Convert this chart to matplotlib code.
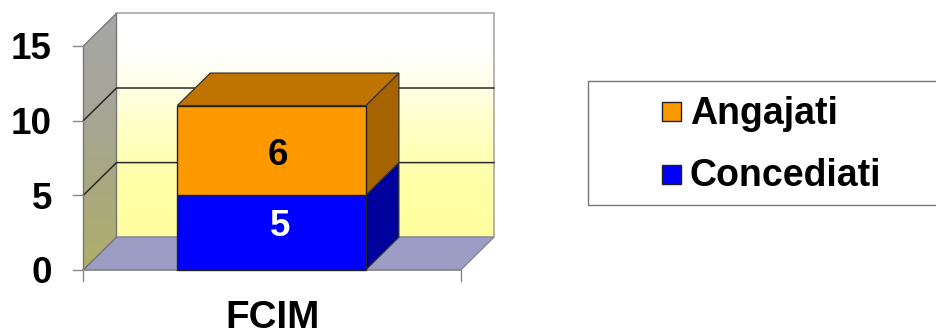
#!/usr/bin/env python3
"""Stacked 3D-look column, drawn by hand on a flat axes."""
import numpy as np
import matplotlib
matplotlib.use("Agg")
import matplotlib.pyplot as plt
from matplotlib.colors import LinearSegmentedColormap
from matplotlib.patches import Polygon, Rectangle

categories = ["FCIM"]
concediati = [5]
angajati = [6]
series_names = ["Angajati", "Concediati"]
y_ticks = [0, 5, 10, 15]

W, H = 937, 329
X0_PX, X1_PX = 83.5, 461.0    # front floor edge
Y0_PX = 269.7
PX_PER_UNIT = 14.92
SPAN = X1_PX - X0_PX
DX = 33.0 / SPAN              # depth offset in x units
DY = 32.5 / PX_PER_UNIT       # depth offset in y units
BAR_L, BAR_R = 0.2485, 0.748
YMAX = y_ticks[-1]

plt.rcParams["font.family"] = ["Liberation Sans", "DejaVu Sans"]
plt.rcParams["font.weight"] = "bold"

fig = plt.figure(figsize=(W / 100, H / 100), dpi=100)
ax = fig.add_axes([0, 0, 1, 1])
xlim = (-X0_PX / SPAN, (W - X0_PX) / SPAN)
ylim = ((Y0_PX - H) / PX_PER_UNIT, Y0_PX / PX_PER_UNIT)


def px(x, y):
    """figure pixels (y from top) to axes fraction"""
    return x / W, 1 - y / H


def poly(pts, color, z, ec="#333333", lw=0.9):
    p = Polygon(pts, closed=True, facecolor=color, edgecolor=ec, linewidth=lw, zorder=z)
    ax.add_patch(p)
    return p


# back wall gradient
wall_cm = LinearSegmentedColormap.from_list(
    "wall", [(0, "#FFFFA0"), (0.25, "#FFFFA8"), (0.5, "#FFFFC8"), (0.7, "#FFFFEC"), (0.84, "#FFFFFF"), (1, "#FFFFFF")])
grad = np.linspace(0, 1, 256).reshape(-1, 1)
ax.imshow(grad, cmap=wall_cm, origin="lower", aspect="auto", zorder=1,
          extent=(DX, 1 + DX, DY, YMAX + DY))
ax.add_patch(Rectangle((DX, DY), 1, YMAX, fill=False, ec="#A8A8A8", lw=1.2, zorder=1.5))

# left side wall gradient, clipped to its parallelogram
side_cm = LinearSegmentedColormap.from_list("side", ["#AFAF6A", "#A8A880", "#A6A69A", "#A6A6A6"])
left = Polygon([(0, 0), (DX, DY), (DX, YMAX + DY), (0, YMAX)], closed=True,
               facecolor="none", edgecolor="#777777", linewidth=1.0, zorder=2.5)
ax.add_patch(left)
im = ax.imshow(grad, cmap=side_cm, origin="lower", aspect="auto", zorder=2,
               extent=(0, DX, 0, YMAX + DY))
im.set_clip_path(left)

# floor
poly([(0, 0), (1, 0), (1 + DX, DY), (DX, DY)], "#9C9CC4", 2, ec="#8A8A8A", lw=1.0)

# gridlines on both walls
for v in y_ticks[1:-1]:
    ax.plot([0, DX, 1 + DX], [v, v + DY, v + DY], color="#2A2A2A", lw=1.1, zorder=3)

# axis lines and ticks
ax.plot([0, 1], [0, 0], color="#888888", lw=1.2, zorder=3)
for v in y_ticks:
    ax.plot([-10 / SPAN, 0], [v, v], color="#888888", lw=1.0, zorder=3)
    ax.text(*px(52, Y0_PX - v * PX_PER_UNIT), str(v), transform=ax.transAxes,
            ha="right", va="center_baseline", fontsize=26.5, color="black", zorder=6)
for x in (0, 1):
    ax.plot([x, x], [0, -11 / PX_PER_UNIT], color="#888888", lw=1.0, zorder=3)

# stacked column
bottoms = [0, concediati[0]]
heights = [concediati[0], angajati[0]]
front = ["#0000FF", "#FF9900"]
sides = ["#00009C", "#A66300"]
for b, h, fc, sc in zip(bottoms, heights, front, sides):
    t = b + h
    ax.bar(BAR_L, h, width=BAR_R - BAR_L, bottom=b, align="edge", color=fc,
           edgecolor="#222222", linewidth=1.0, zorder=5)
    poly([(BAR_R, b), (BAR_R + DX, b + DY), (BAR_R + DX, t + DY), (BAR_R, t)], sc, 4.5)
top = bottoms[-1] + heights[-1]
poly([(BAR_L, top), (BAR_R, top), (BAR_R + DX, top + DY), (BAR_L + DX, top + DY)], "#BF7300", 4.5)

# data labels, the first one sits above the middle of its segment
ax.text(*px(280, 222.7), str(concediati[0]), transform=ax.transAxes, color="white", fontsize=26.5,
        ha="center", va="center_baseline", zorder=6)
ax.text(*px(278, 151.6), str(angajati[0]), transform=ax.transAxes, color="black", fontsize=26.5,
        ha="center", va="center_baseline", zorder=6)

# category label sits right at the bottom edge of the picture
ax.text(*px(272.5, 327.5), categories[0], transform=ax.transAxes, ha="center", va="baseline",
        fontsize=27.7, color="black", zorder=6)

# legend box, right side runs off the image
ax.add_patch(Rectangle(px(588.5, 205), (W + 5 - 588.5) / W, 124 / H, transform=ax.transAxes,
                       facecolor="white", edgecolor="#777777", lw=1.0, zorder=3, clip_on=True))
for name, color, yc in zip(series_names, ["#FF9900", "#0000FF"], [112, 174]):
    ax.add_patch(Rectangle(px(662.5, yc + 9.5), 19 / W, 19 / H, transform=ax.transAxes,
                           facecolor=color, edgecolor="#222222", lw=1.0, zorder=4))
    ax.text(*px(690, yc + 12), name, transform=ax.transAxes, ha="left", va="baseline",
            fontsize=27, color="black", zorder=6)

ax.set_xlim(xlim)
ax.set_ylim(ylim)
ax.axis("off")
fig.savefig("out.png", dpi=100, facecolor="white")
